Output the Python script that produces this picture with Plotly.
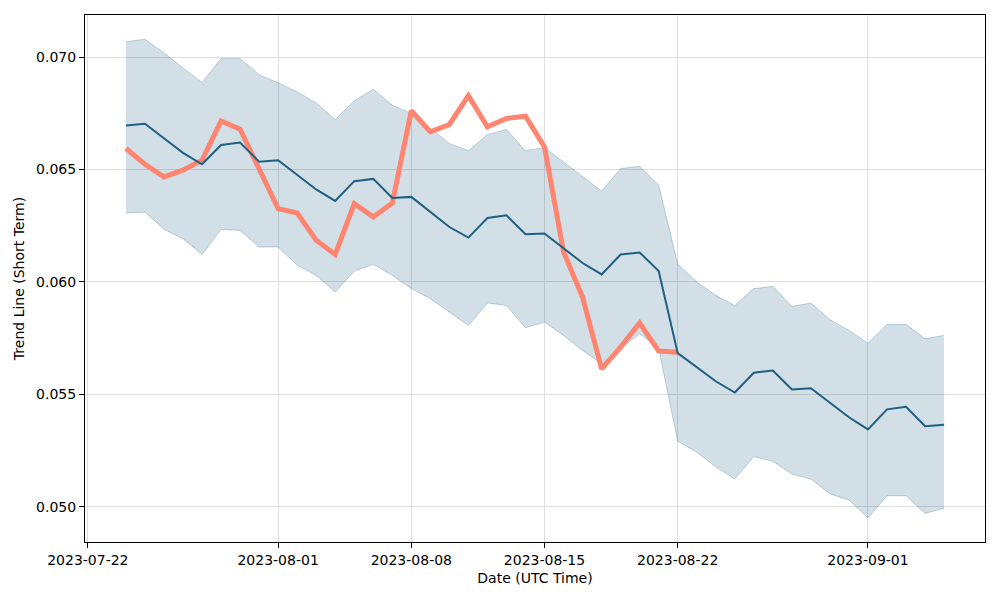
import plotly.graph_objects as go
import pandas as pd

dates = pd.date_range("2023-07-24", "2023-09-05", freq="D")

trend_mean = [0.06696, 0.06703, 0.06639, 0.06574, 0.06523, 0.06609, 0.06620, 0.06534,
              0.06541, 0.06476, 0.06411, 0.06360, 0.06448, 0.06458, 0.06373,
              0.06378, 0.06311, 0.06244, 0.06197, 0.06284, 0.06296, 0.06212, 0.06215,
              0.06148, 0.06084, 0.06033, 0.06122, 0.06131, 0.06048, 0.05683,
              0.05621, 0.05558, 0.05508, 0.05596, 0.05606, 0.05521, 0.05527,
              0.05462, 0.05398, 0.05344, 0.05433, 0.05444, 0.05358, 0.05365]

trend_upper = [0.07068, 0.07079, 0.07018, 0.06951, 0.06886, 0.06994, 0.06994, 0.06921,
               0.06886, 0.06845, 0.06796, 0.06722, 0.06805, 0.06857, 0.06786,
               0.06749, 0.06684, 0.06616, 0.06583, 0.06656, 0.06678, 0.06583, 0.06598,
               0.06532, 0.06470, 0.06404, 0.06504, 0.06514, 0.06430, 0.06081,
               0.05999, 0.05940, 0.05895, 0.05970, 0.05980, 0.05891, 0.05906,
               0.05832, 0.05784, 0.05727, 0.05811, 0.05811, 0.05747, 0.05762]

trend_lower = [0.06306, 0.06310, 0.06234, 0.06192, 0.06122, 0.06233, 0.06229, 0.06155,
               0.06155, 0.06074, 0.06029, 0.05955, 0.06048, 0.06078, 0.06029,
               0.05970, 0.05925, 0.05866, 0.05806, 0.05906, 0.05895, 0.05796, 0.05821,
               0.05762, 0.05695, 0.05636, 0.05702, 0.05769, 0.05702, 0.05292,
               0.05242, 0.05178, 0.05123, 0.05223, 0.05202, 0.05146, 0.05123,
               0.05057, 0.05030, 0.04950, 0.05049, 0.05049, 0.04970, 0.04994]

price = [0.06593, 0.06523, 0.06467, 0.06497, 0.06541, 0.06716, 0.06679, 0.06497,
         0.06326, 0.06306, 0.06185, 0.06122, 0.06348, 0.06289, 0.06351,
         0.06761, 0.06667, 0.06700, 0.06828, 0.06690, 0.06727, 0.06737, 0.06600,
         0.06133, 0.05932, 0.05613, 0.05710, 0.05817, 0.05692, 0.05687]

x_tick_vals = ["2023-07-22", "2023-08-01", "2023-08-08", "2023-08-15", "2023-08-22", "2023-09-01"]
y_tick_vals = [0.050, 0.055, 0.060, 0.065, 0.070]

MEAN_COLOR = "#1f5f80"
FILL_COLOR = "rgba(31,95,128,0.20)"
EDGE_COLOR = "rgba(31,95,128,0.25)"
PRICE_COLOR = "#ff8570"

fig = go.Figure()
fig.add_trace(go.Scatter(x=dates, y=trend_lower, mode="lines",
                         line=dict(color=EDGE_COLOR, width=1), showlegend=False))
fig.add_trace(go.Scatter(x=dates, y=trend_upper, mode="lines", fill="tonexty",
                         fillcolor=FILL_COLOR,
                         line=dict(color=EDGE_COLOR, width=1), showlegend=False))
fig.add_trace(go.Scatter(x=dates[:len(price)], y=price, mode="lines",
                         line=dict(color=PRICE_COLOR, width=5), showlegend=False))
fig.add_trace(go.Scatter(x=dates, y=trend_mean, mode="lines",
                         line=dict(color=MEAN_COLOR, width=2), showlegend=False))

font = dict(family="DejaVu Sans", size=14, color="black")
fig.update_layout(
    width=992, height=592,
    margin=dict(l=77, r=15, t=7, b=58),
    paper_bgcolor="white", plot_bgcolor="white",
    font=font,
)
fig.update_xaxes(
    range=["2023-07-21 20:24", "2023-09-07 03:36"],
    tickvals=x_tick_vals, tickformat="%Y-%m-%d",
    showline=True, mirror=True, linecolor="black", linewidth=1,
    ticks="outside", ticklen=5, tickcolor="black",
    showgrid=True, gridcolor="#dedede", gridwidth=1,
    zeroline=False, automargin=False,
    title=dict(text="Date (UTC Time)", font=font, standoff=6),
)
fig.update_yaxes(
    range=[0.04843, 0.07187],
    tickvals=y_tick_vals, tickformat=".3f",
    showline=True, mirror=True, linecolor="black", linewidth=1,
    ticks="outside", ticklen=5, tickcolor="black",
    showgrid=True, gridcolor="#dedede", gridwidth=1,
    zeroline=False, automargin=False,
    title=dict(text="Trend Line (Short Term)", font=font, standoff=8),
)

fig.write_html("out.html")
